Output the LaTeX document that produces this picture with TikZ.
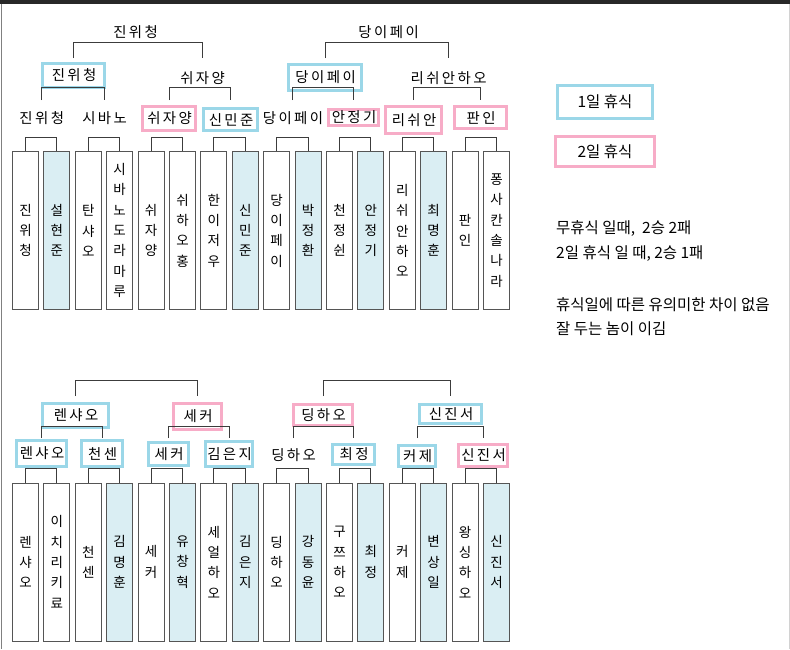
\documentclass[tikz,border=0pt]{standalone}
\usepackage{fontspec}
\newfontfamily\kr[LetterSpace=17]{Noto Sans CJK KR}
\newfontfamily\krv{Noto Sans CJK KR}
\newfontfamily\krn{Noto Sans CJK KR}
\definecolor{bluebox}{RGB}{155,215,232}
\definecolor{pinkbox}{RGB}{247,172,199}
\definecolor{pfill}{RGB}{218,238,243}
\definecolor{pborder}{RGB}{85,85,85}
\definecolor{lineclr}{RGB}{60,60,60}
\definecolor{topbar}{RGB}{40,40,40}
\tikzset{
  player/.style={draw=pborder, line width=1pt, minimum width=26pt, minimum height=158pt,
    inner sep=0pt, align=center, font=\krv\fontsize{13.5}{20.3}\selectfont},
  conn/.style={draw=lineclr, line width=1pt},
  lbl/.style={inner sep=0pt, font=\kr\fontsize{14.4}{16}\selectfont,
    execute at begin node=\hspace{1.2pt}},
  bbox/.style={lbl, draw=bluebox, line width=3pt},
  pbox/.style={lbl, draw=pinkbox, line width=3pt},
  legend/.style={inner sep=0pt, font=\krn\fontsize{15.5}{17}\selectfont},
  note/.style={anchor=west, inner sep=0pt, font=\krn\fontsize{15.5}{17}\selectfont}
}
\begin{document}
\begin{tikzpicture}[x=1pt,y=-1pt]
\useasboundingbox (0,0) rectangle (790,649);
\fill[white] (0,0) rectangle (790,649);
% frame
\fill[topbar] (0,0) rectangle (790,4);
\draw[gray, line width=1pt] (1,4) -- (1,649);
\draw[gray!35, line width=1pt] (789,4) -- (789,649);

% ---------- top half players ----------
\foreach \i/\t/\f in {
 0/{진\\위\\청}/white, 1/{설\\현\\준}/pfill, 2/{탄\\샤\\오}/white, 3/{시\\바\\노\\도\\라\\마\\루}/white,
 4/{쉬\\자\\양}/white, 5/{쉬\\하\\오\\홍}/white, 6/{한\\이\\저\\우}/white, 7/{신\\민\\준}/pfill,
 8/{당\\이\\페\\이}/white, 9/{박\\정\\환}/pfill, 10/{천\\정\\쉰}/white, 11/{안\\정\\기}/pfill,
 12/{리\\쉬\\안\\하\\오}/white, 13/{최\\명\\훈}/pfill, 14/{판\\인}/white, 15/{퐁\\사\\칸\\솔\\나\\라}/white}
 \node[player, fill=\f] (t\i) at ({25.5+31.4*\i}, 230.5) {\t};

% ---------- bottom half players ----------
\foreach \i/\t/\f in {
 0/{렌\\샤\\오}/white, 1/{이\\치\\리\\키\\료}/white, 2/{천\\센}/white, 3/{김\\명\\훈}/pfill,
 4/{세\\커}/white, 5/{유\\창\\혁}/pfill, 6/{세\\얼\\하\\오}/white, 7/{김\\은\\지}/pfill,
 8/{딩\\하\\오}/white, 9/{강\\동\\윤}/pfill, 10/{구\\쯔\\하\\오}/white, 11/{최\\정}/pfill,
 12/{커\\제}/white, 13/{변\\상\\일}/pfill, 14/{왕\\싱\\하\\오}/white, 15/{신\\진\\서}/pfill}
 \node[player, fill=\f] (b\i) at ({25.5+31.4*\i}, 562) {\t};

% round 1 brackets
\foreach \k in {0,...,7}{
  \pgfmathtruncatemacro{\a}{2*\k}
  \pgfmathtruncatemacro{\b}{2*\k+1}
  \draw[conn] (t\a.north) -- ++(0,-14) -| (t\b.north);
  \draw[conn] (b\a.north) -- ++(0,-14) -| (b\b.north);
}

% ---------- top labels ----------
\node[lbl] (ta0) at (41.2,118) {진위청};
\node[lbl] (ta1) at (104,118) {시바노};
\node[pbox, minimum width=53pt, minimum height=24pt] (ta2) at (169,118.5) {쉬자양};
\node[bbox, minimum width=54pt, minimum height=22pt] (ta3) at (230.5,119.5) {신민준};
\node[lbl] (ta4) at (292.4,118) {당이페이};
\node[pbox, minimum width=50pt, minimum height=16pt] (ta5) at (353.5,117.5) {안정기};
\node[pbox, minimum width=56pt, minimum height=27pt] (ta6) at (413.5,120) {리쉬안};
\node[pbox, minimum width=52pt, minimum height=22pt] (ta7) at (480.5,117.5) {판인};

\node[bbox, minimum width=62pt, minimum height=24pt] (tb0) at (73.5,75.5) {진위청};
\node[lbl] (tb1) at (202,78) {쉬자양};
\node[bbox, minimum width=73pt, minimum height=26pt] (tb2) at (325,77.5) {당이페이};
\node[lbl] (tb3) at (448,78) {리쉬안하오};

\node[lbl] (tc0) at (135,32) {진위청};
\node[lbl] (tc1) at (388,32) {당이페이};

\draw[conn] (ta0.center |- 0,100) -- (ta0.center |- 0,87) -| (ta1.center |- 0,100);
\draw[conn] (ta2.center |- 0,100) -- (ta2.center |- 0,87) -| (ta3.center |- 0,100);
\draw[conn] (ta4.center |- 0,100) -- (ta4.center |- 0,87) -| (ta5.center |- 0,100);
\draw[conn] (ta6.center |- 0,100) -- (ta6.center |- 0,87) -| (ta7.center |- 0,100);
\draw[conn] (tb0.center |- 0,58) -- (tb0.center |- 0,42) -| (tb1.center |- 0,58);
\draw[conn] (tb2.center |- 0,58) -- (tb2.center |- 0,42) -| (tb3.center |- 0,58);

% ---------- bottom labels ----------
\node[bbox, minimum width=50pt, minimum height=26pt] (ba0) at (41.5,453.5) {렌샤오};
\node[bbox, minimum width=41pt, minimum height=26pt] (ba1) at (102,453.5) {천센};
\node[bbox, minimum width=40pt, minimum height=23pt] (ba2) at (168.5,454) {세커};
\node[bbox, minimum width=47pt, minimum height=25pt] (ba3) at (229,454) {김은지};
\node[lbl] (ba4) at (293,455) {딩하오};
\node[bbox, minimum width=42pt, minimum height=20pt] (ba5) at (353.5,454.5) {최정};
\node[bbox, minimum width=37pt, minimum height=21pt] (ba6) at (417,456) {커제};
\node[pbox, minimum width=49pt, minimum height=22pt] (ba7) at (483,455.5) {신진서};

\node[bbox, minimum width=66pt, minimum height=24pt] (bb0) at (75.5,415.5) {렌샤오};
\node[pbox, minimum width=48pt, minimum height=26pt] (bb1) at (197.5,416.5) {세커};
\node[pbox, minimum width=59pt, minimum height=21pt] (bb2) at (323,415) {딩하오};
\node[bbox, minimum width=62pt, minimum height=19pt] (bb3) at (450.5,414) {신진서};

\draw[conn] (ba0.center |- 0,438) -- (ba0.center |- 0,426) -| (ba1.center |- 0,438);
\draw[conn] (ba2.center |- 0,438) -- (ba2.center |- 0,426) -| (ba3.center |- 0,438);
\draw[conn] (ba4.center |- 0,438) -- (ba4.center |- 0,426) -| (ba5.center |- 0,438);
\draw[conn] (ba6.center |- 0,438) -- (ba6.center |- 0,426) -| (ba7.center |- 0,438);
\draw[conn] (bb0.center |- 0,396) -- (bb0.center |- 0,380) -| (bb1.center |- 0,396);
\draw[conn] (bb2.center |- 0,396) -- (bb2.center |- 0,380) -| (bb3.center |- 0,396);

% ---------- legend ----------
\node[legend, draw=bluebox, line width=3pt, minimum width=95pt, minimum height=33pt] (lg1) at (605,102) {1일 휴식};
\node[legend, draw=pinkbox, line width=3pt, minimum width=99pt, minimum height=30pt] (lg2) at (605,151.5) {2일 휴식};

\node[note] (n1) at (556,229) {무휴식 일때,\ \ 2승 2패};
\node[note] (n2) at (556,254) {2일 휴식 일 때, 2승 1패};
\node[note] (n3) at (556,305) {휴식일에 따른 유의미한 차이 없음};
\node[note] (n4) at (556,329) {잘 두는 놈이 이김};
\end{tikzpicture}
\end{document}
